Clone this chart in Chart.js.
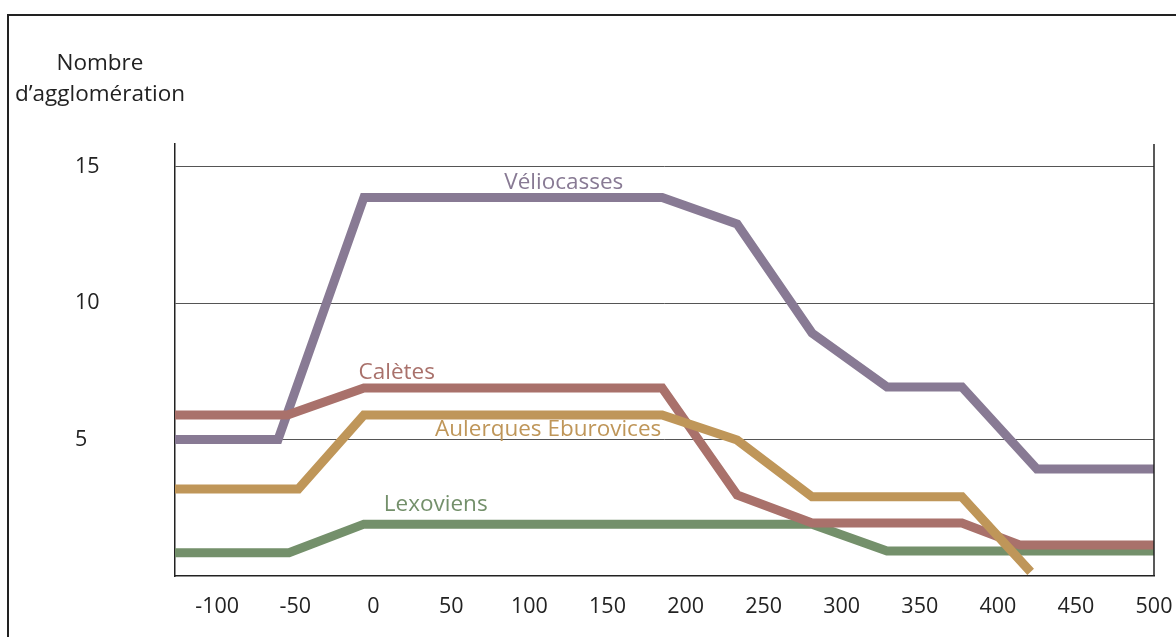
<!DOCTYPE html>
<html lang="fr">
<head>
<meta charset="utf-8">
<title>Nombre d'agglomération</title>
<script src="https://cdn.jsdelivr.net/npm/chart.js@4/dist/chart.umd.min.js"></script>
<style>
  html, body { margin: 0; padding: 0; background: #fff; }
  #wrap { width: 1176px; height: 637px; }
</style>
</head>
<body>
<div id="wrap"><canvas id="agglomChart" width="1176" height="637"></canvas></div>
<script>
// Axis ticks
const xTicks = [-100, -50, 0, 50, 100, 150, 200, 250, 300, 350, 400, 450, 500];
const yTicks = [5, 10, 15];

// Series (x = année, y = nombre d'agglomérations)
const seriesNames = ['Véliocasses', 'Calètes', 'Aulerques Eburovices', 'Lexoviens'];
const veliocassesX = [-127, -61, -6, 185, 233, 281, 329, 377, 425, 500];
const veliocassesY = [5, 5, 13.87, 13.87, 12.9, 8.9, 6.93, 6.93, 3.92, 3.92];
const caletesX = [-127, -55, -6, 185, 233, 281, 377, 414, 500];
const caletesY = [5.9, 5.9, 6.89, 6.89, 2.97, 1.94, 1.94, 1.14, 1.14];
const aulerquesX = [-127, -48, -6, 185, 233, 281, 377, 421];
const aulerquesY = [3.19, 3.19, 5.9, 5.9, 4.98, 2.9, 2.9, 0.15];
const lexoviensX = [-127, -54, -6, 281, 329, 500];
const lexoviensY = [0.85, 0.85, 1.9, 1.9, 0.92, 0.92];

// Where each series name is written (data units)
const labelX = [122, 15, 112, 40];
const labelY = [14.4, 7.45, 5.35, 2.6];

const colors = ['#887a94', '#a9716b', '#bf9659', '#74906b'];
const FONT = '"Open Sans", "Liberation Sans", sans-serif';

const toPoints = (xs, ys) => xs.map((x, i) => ({ x: x, y: ys[i] }));

/**
 * Frame, right border, axis title and series names
 */
const decorations = {
  id: 'decorations',
  afterDraw(chart) {
    const ctx = chart.ctx;
    const area = chart.chartArea;
    const xs = chart.scales.x;
    const ys = chart.scales.y;

    ctx.save();
    // outer frame (top + left)
    ctx.strokeStyle = '#222';
    ctx.lineWidth = 2;
    ctx.beginPath();
    ctx.moveTo(8, 637);
    ctx.lineTo(8, 15);
    ctx.lineTo(1176, 15);
    ctx.stroke();

    // right edge of plot
    ctx.lineWidth = 1.5;
    ctx.beginPath();
    ctx.moveTo(area.right, area.top);
    ctx.lineTo(area.right, area.bottom);
    ctx.stroke();

    // y title
    ctx.fillStyle = '#222';
    ctx.font = '22.5px ' + FONT;
    ctx.textAlign = 'center';
    ctx.textBaseline = 'middle';
    ctx.fillText('Nombre', 100, 64);
    ctx.fillText('d\u2019agglomération', 100, 95);

    // series names
    seriesNames.forEach((name, i) => {
      ctx.fillStyle = colors[i];
      ctx.fillText(name, xs.getPixelForValue(labelX[i]), ys.getPixelForValue(labelY[i]));
    });
    ctx.restore();
  }
};

const seriesData = [
  toPoints(veliocassesX, veliocassesY),
  toPoints(caletesX, caletesY),
  toPoints(aulerquesX, aulerquesY),
  toPoints(lexoviensX, lexoviensY)
];
// drawing order: tan on top, then red, green, purple underneath
const drawOrder = [3, 1, 0, 2];

const chart = new Chart(document.getElementById('agglomChart').getContext('2d'), {
  type: 'line',
  data: {
    datasets: seriesNames.map((name, i) => ({
      label: name,
      data: seriesData[i],
      borderColor: colors[i],
      borderWidth: 9,
      borderJoinStyle: 'miter',
      borderCapStyle: 'butt',
      tension: 0,
      pointRadius: 0,
      fill: false,
      order: drawOrder[i]
    }))
  },
  options: {
    responsive: false,
    animation: false,
    layout: { padding: { left: 75, right: 22, top: 144, bottom: 0 } },
    plugins: {
      legend: { display: false },
      tooltip: { enabled: false }
    },
    scales: {
      x: {
        type: 'linear',
        min: -127,
        max: 500,
        afterBuildTicks: (scale) => { scale.ticks = xTicks.map(v => ({ value: v })); },
        afterFit: (scale) => { scale.height = 61; },
        // invisible tick marks give the vertical gap without widening the side padding
        grid: { display: false, drawTicks: true, tickLength: 18 },
        border: { display: true, color: '#222', width: 1.5 },
        ticks: {
          padding: 0,
          color: '#222',
          maxRotation: 0,
          font: { family: FONT, size: 21.5 }
        }
      },
      y: {
        type: 'linear',
        min: 0,
        max: 15.83,
        afterBuildTicks: (scale) => { scale.ticks = yTicks.map(v => ({ value: v })); },
        afterFit: (scale) => { scale.width = 100; },
        grid: { color: '#555', lineWidth: 1, drawTicks: false },
        border: { display: true, color: '#222', width: 1.5 },
        ticks: {
          crossAlign: 'far',
          padding: 0,
          color: '#222',
          font: { family: FONT, size: 21.5 }
        }
      }
    }
  },
  plugins: [decorations]
});
</script>
</body>
</html>
